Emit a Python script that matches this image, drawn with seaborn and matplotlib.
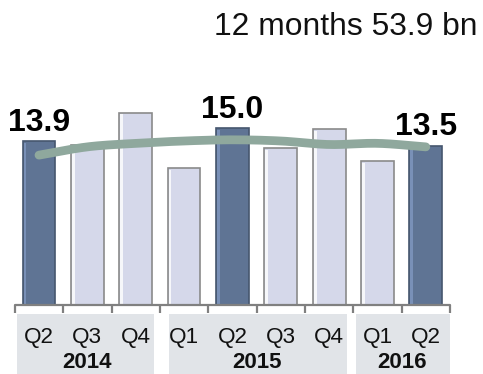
import numpy as np
import pandas as pd
import matplotlib
matplotlib.use("Agg")
import matplotlib.pyplot as plt
import matplotlib.transforms as mtransforms
from matplotlib.patches import Rectangle
import seaborn as sns

# Quarterly values (bn) and the smoothed trend drawn through them
quarters = ["Q2", "Q3", "Q4", "Q1", "Q2", "Q3", "Q4", "Q1", "Q2"]
years = ["2014", "2015", "2016"]
year_spans = [(0, 2), (3, 6), (7, 8)]
values = [13.9, 13.6, 16.3, 11.6, 15.0, 13.3, 14.9, 12.2, 13.5]
trend = [12.7, 13.4, 13.7, 13.9, 14.0, 13.9, 13.6, 13.7, 13.4]
highlight = [True, False, False, False, True, False, False, False, True]
labelled = [0, 4, 8]
title = "12 months 53.9 bn"

DARK = "#5f7494"
LIGHT = "#d5d8ea"
TREND = "#8fa89d"
BOX = "#e1e4e8"
AXIS = "#808080"

sns.set_theme(style="white")
plt.rcParams["font.family"] = ["Liberation Sans", "DejaVu Sans"]

W, H = 483, 374
fig = plt.figure(figsize=(W / 100, H / 100), dpi=100)
ax = fig.add_axes([14.8 / W, 69 / H, 435.2 / W, 245 / H])

df = pd.DataFrame({"pos": [str(i) for i in range(len(values))], "value": values})
palette = {str(i): (DARK if h else LIGHT) for i, h in enumerate(highlight)}
sns.barplot(data=df, x="pos", y="value", hue="pos", palette=palette,
            legend=False, width=0.68, ax=ax, saturation=1, zorder=2)

# bevelled bar edges
for i, p in enumerate(list(ax.patches)):
    x0, w, h = p.get_x(), p.get_width(), p.get_height()
    if highlight[i]:
        p.set_edgecolor("#46566e")
        hl = "#8098c0"
    else:
        p.set_edgecolor("#8a8a8a")
        hl = "#ffffff"
    p.set_linewidth(1.2)
    ax.add_patch(Rectangle((x0 + 0.02, 0), 0.06, h - 0.15, facecolor=hl,
                           edgecolor="none", zorder=3, alpha=0.8))

# smooth trend curve (Catmull-Rom through the trend points)
xs = np.arange(len(trend), dtype=float)
ys = np.array(trend, dtype=float)
px = np.concatenate([[2 * xs[0] - xs[1]], xs, [2 * xs[-1] - xs[-2]]])
py = np.concatenate([[2 * ys[0] - ys[1]], ys, [2 * ys[-1] - ys[-2]]])
cx, cy = [], []
for k in range(1, len(px) - 2):
    t = np.linspace(0, 1, 20)
    for arr, out in ((px, cx), (py, cy)):
        p0, p1, p2, p3 = arr[k - 1], arr[k], arr[k + 1], arr[k + 2]
        out.extend(0.5 * (2 * p1 + (-p0 + p2) * t
                          + (2 * p0 - 5 * p1 + 4 * p2 - p3) * t ** 2
                          + (-p0 + 3 * p1 - 3 * p2 + p3) * t ** 3))
ax.plot(cx, cy, color=TREND, lw=6.3, solid_capstyle="round", zorder=4)

# value labels
for i in labelled:
    ax.annotate(f"{values[i]:.1f}", (i, values[i]), xytext=(0, 7.5),
                textcoords="offset points", ha="center", va="baseline",
                fontsize=23, fontweight="bold", color="black", zorder=5)

ax.set_xlim(-0.5, len(values) - 0.5)
ax.set_ylim(0, 245 / 11.8)
ax.set_xlabel("")
ax.set_ylabel("")
ax.set_yticks([])
for s in ax.spines.values():
    s.set_visible(False)
ax.axhline(0, color=AXIS, lw=1.6, zorder=6, clip_on=False)
ax.set_xticks(np.arange(-0.5, len(values), 1.0))
ax.set_xticklabels([])
ax.tick_params(axis="x", direction="out", length=6, width=1.6, color=AXIS,
               bottom=True, pad=0)

# category band below the axis
trans = mtransforms.blended_transform_factory(ax.transData, fig.transFigure)
box_edges = [(-0.455, 2.376), (2.68, 6.37), (6.55, 8.5)]
for (a, b) in box_edges:
    ax.add_patch(Rectangle((a, 0), b - a, (H - 314) / H, transform=trans,
                           facecolor=BOX, edgecolor="none", zorder=0,
                           clip_on=False))
for i, q in enumerate(quarters):
    ax.text(i, (H - 343) / H, q, transform=trans, ha="center", va="baseline",
            fontsize=16.2, color="#111111", zorder=7)
for (a, b), yr in zip(year_spans, years):
    ax.text((a + b) / 2, (H - 368) / H, yr, transform=trans, ha="center",
            va="baseline", fontsize=16, fontweight="bold", color="#111111",
            zorder=7)

fig.text(477 / W, 1 - 35 / H, title, ha="right", va="baseline",
         fontsize=22.9, color="#111111")

fig.savefig("out.png", dpi=100)
